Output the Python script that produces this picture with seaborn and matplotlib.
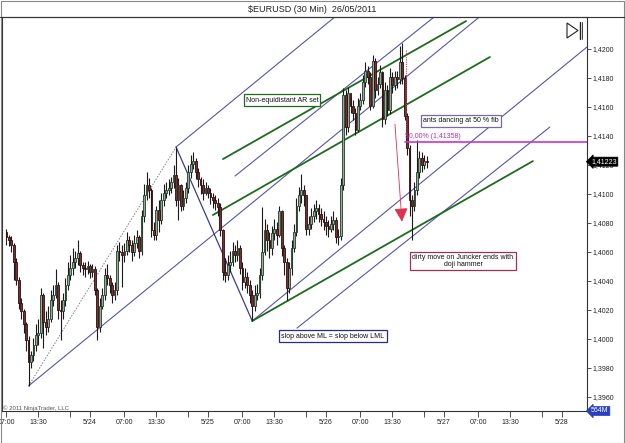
import numpy as np
import pandas as pd
import matplotlib
matplotlib.use("Agg")
import matplotlib.pyplot as plt
from matplotlib.lines import Line2D
from matplotlib.patches import Rectangle, Polygon
from matplotlib.ticker import FuncFormatter
import seaborn as sns

# ---- data (30 min bars, x = hours since 23/05 00:00) ----
first_open = 1.4074
closes = [1.4070, 1.4068, 1.4065, 1.4053, 1.4041, 1.4025, 1.4019, 1.4010, 1.3999, 1.3984,
          1.3989, 1.3996, 1.4003, 1.4004, 1.4030, 1.4012, 1.4008, 1.4014, 1.4027, 1.4030,
          1.4037, 1.4020, 1.4019, 1.4027, 1.4037, 1.4044, 1.4049, 1.4053, 1.4056, 1.4059,
          1.4051, 1.4049, 1.4048, 1.4050, 1.4046, 1.4048, 1.4034, 1.4008, 1.4023, 1.4030,
          1.4044, 1.4042, 1.4037, 1.4030, 1.4034, 1.4061, 1.4060, 1.4058, 1.4061, 1.4068,
          1.4065, 1.4060, 1.4066, 1.4070, 1.4061, 1.4085, 1.4099, 1.4106, 1.4103, 1.4075,
          1.4072, 1.4089, 1.4082, 1.4096, 1.4101, 1.4103, 1.4104, 1.4108, 1.4113, 1.4096,
          1.4106, 1.4092, 1.4097, 1.4104, 1.4115, 1.4121, 1.4123, 1.4115, 1.4110, 1.4106,
          1.4101, 1.4104, 1.4101, 1.4098, 1.4096, 1.4094, 1.4091, 1.4075, 1.4046, 1.4044,
          1.4051, 1.4053, 1.4061, 1.4058, 1.4063, 1.4049, 1.4039, 1.4043, 1.4037, 1.4030,
          1.4023, 1.4030, 1.4032, 1.4044, 1.4060, 1.4075, 1.4068, 1.4063, 1.4073, 1.4076,
          1.4072, 1.4088, 1.4063, 1.4053, 1.4035, 1.4049, 1.4063, 1.4074, 1.4092, 1.4099,
          1.4103, 1.4099, 1.4076, 1.4079, 1.4085, 1.4088, 1.4090, 1.4086, 1.4083, 1.4081,
          1.4078, 1.4076, 1.4079, 1.4082, 1.4070, 1.4071, 1.4106, 1.4168, 1.4146, 1.4170,
          1.4161, 1.4156, 1.4144, 1.4161, 1.4165, 1.4177, 1.4185, 1.4181, 1.4161, 1.4192,
          1.4172, 1.4176, 1.4184, 1.4152, 1.4172, 1.4158, 1.4181, 1.4175, 1.4181, 1.4179,
          1.4191, 1.4180, 1.4154, 1.4132, 1.4096, 1.4092, 1.4103, 1.4115, 1.4125, 1.4120,
          1.4123, 1.41223]
highs = [1.4076, 1.4072, 1.4071, 1.4066, 1.4056, 1.4043, 1.4028, 1.4021, 1.4012, 1.4002,
         1.3992, 1.4001, 1.4010, 1.4014, 1.4035, 1.4032, 1.4019, 1.4023, 1.4034, 1.4037,
         1.4048, 1.4039, 1.4027, 1.4032, 1.4042, 1.4053, 1.4058, 1.4063, 1.4061, 1.4068,
         1.4061, 1.4053, 1.4053, 1.4054, 1.4052, 1.4052, 1.4050, 1.4035, 1.4028, 1.4035,
         1.4049, 1.4052, 1.4044, 1.4039, 1.4039, 1.4065, 1.4067, 1.4065, 1.4066, 1.4074,
         1.4071, 1.4068, 1.4072, 1.4075, 1.4072, 1.4089, 1.4107, 1.4115, 1.4111, 1.4104,
         1.4081, 1.4092, 1.4096, 1.4101, 1.4107, 1.4108, 1.4110, 1.4112, 1.4120, 1.41324,
         1.4111, 1.4107, 1.4103, 1.4108, 1.4120, 1.4127, 1.4129, 1.4125, 1.4118, 1.4112,
         1.4110, 1.4108, 1.4106, 1.4104, 1.4101, 1.4099, 1.4097, 1.4094, 1.4076, 1.4056,
         1.4058, 1.4061, 1.4067, 1.4065, 1.4068, 1.4065, 1.4053, 1.4049, 1.4046, 1.4041,
         1.4034, 1.4037, 1.4038, 1.4049, 1.4091, 1.4083, 1.4079, 1.4074, 1.4078, 1.4083,
         1.4081, 1.4092, 1.4089, 1.4065, 1.4056, 1.4053, 1.4068, 1.4079, 1.4097, 1.4105,
         1.4114, 1.4106, 1.4099, 1.4085, 1.4090, 1.4093, 1.4096, 1.4093, 1.4090, 1.4088,
         1.4085, 1.4082, 1.4085, 1.4088, 1.4084, 1.4076, 1.4111, 1.4173, 1.4172, 1.4174,
         1.4167, 1.4165, 1.4159, 1.4166, 1.4170, 1.4182, 1.4191, 1.4188, 1.4184, 1.4196,
         1.4194, 1.4181, 1.4189, 1.4185, 1.4177, 1.4175, 1.4187, 1.4184, 1.4185, 1.4185,
         1.4202, 1.4204, 1.4182, 1.4156, 1.4134, 1.4099, 1.4108, 1.4137, 1.4130, 1.4129,
         1.4127, 1.4126]
lows = [1.4065, 1.4064, 1.4060, 1.4041, 1.4037, 1.4021, 1.4014, 1.4004, 1.3992, 1.39676,
        1.3980, 1.3985, 1.3992, 1.3996, 1.4001, 1.3994, 1.4003, 1.4005, 1.4012, 1.4023,
        1.4028, 1.4014, 1.3999, 1.4014, 1.4023, 1.4034, 1.4041, 1.4044, 1.4049, 1.4051,
        1.4046, 1.4044, 1.4043, 1.4045, 1.4042, 1.4043, 1.4030, 1.3999, 1.4005, 1.4021,
        1.4027, 1.4037, 1.4032, 1.4025, 1.4027, 1.4030, 1.4054, 1.4036, 1.4053, 1.4058,
        1.4060, 1.4054, 1.4057, 1.4063, 1.4056, 1.4058, 1.4081, 1.4096, 1.4097, 1.4070,
        1.4068, 1.4068, 1.4074, 1.4079, 1.4092, 1.4097, 1.4099, 1.4101, 1.4104, 1.4092,
        1.4082, 1.4088, 1.4089, 1.4094, 1.4101, 1.4111, 1.4117, 1.4110, 1.4105, 1.4100,
        1.4096, 1.4099, 1.4097, 1.4093, 1.4090, 1.4089, 1.4085, 1.4071, 1.4041, 1.4039,
        1.4041, 1.4046, 1.4050, 1.4053, 1.4054, 1.4045, 1.4034, 1.4035, 1.4032, 1.4025,
        1.40124, 1.4019, 1.4027, 1.4028, 1.4041, 1.4058, 1.4061, 1.4056, 1.4058, 1.4068,
        1.4065, 1.4070, 1.4057, 1.4044, 1.4027, 1.4032, 1.4044, 1.4060, 1.4071, 1.4088,
        1.4094, 1.4092, 1.4072, 1.4072, 1.4076, 1.4081, 1.4083, 1.4081, 1.4078, 1.4075,
        1.4072, 1.4070, 1.4074, 1.4075, 1.4066, 1.4065, 1.4068, 1.4103, 1.4141, 1.4143,
        1.4156, 1.4151, 1.4141, 1.4143, 1.4158, 1.4162, 1.4174, 1.4176, 1.4158, 1.4159,
        1.4166, 1.4168, 1.4173, 1.4146, 1.4148, 1.4154, 1.4155, 1.4170, 1.4172, 1.4173,
        1.4176, 1.4176, 1.4151, 1.4127, 1.4085, 1.4068, 1.4088, 1.4099, 1.4111, 1.4115,
        1.4117, 1.4118]

# pitchfork pivots (hour, price)
p1 = (11.5, 1.39676)
p2 = (41.5, 1.41324)
p3 = (57.0, 1.40124)

# trend lines: (h0, price0, h1, price1)
navy_lines = [
    (11.5, 1.39676, 103.2, 1.42221),   # median line
    (57.0, 1.40124, 125.1, 1.42014),   # lower parallel
    (41.5, 1.41324, 73.8, 1.42221),    # upper parallel
    (53.5, 1.41124, 94.0, 1.42221),    # inner reaction line
    (66.1, 1.40075, 117.55, 1.41462),  # lower warning line
]
green_lines = [
    (57.0, 1.40124, 114.1, 1.41227),
    (49.0, 1.40855, 105.35, 1.41945),
    (51.05, 1.41241, 100.5, 1.42193),
]
fib_level = 1.41358
fib_start = 88.0
last_price = 1.41223

yticks = [1.396, 1.398, 1.400, 1.402, 1.404, 1.406, 1.408, 1.410, 1.412, 1.414, 1.416, 1.418, 1.420]
xtick_pos = [7, 13.5, 24, 31, 37.5, 48, 55, 61.5, 72, 79, 85.5, 96, 103, 109.5, 120]
xtick_lab = ["07:00", "13:30", "5/24", "07:00", "13:30", "5/25", "07:00", "13:30",
             "5/26", "07:00", "13:30", "5/27", "07:00", "13:30", "5/28"]
xminor_pos = [20, 44, 68, 92, 116]

# ---- build frame ----
n = len(closes)
df = pd.DataFrame({
    "h": 7 + 0.5 * np.arange(n),
    "open": [first_open] + closes[:-1],
    "high": highs,
    "low": lows,
    "close": closes,
})
df["up"] = df["close"] >= df["open"]

sns.set_theme(style="white")
plt.rcParams["font.family"] = ["Liberation Sans", "DejaVu Sans"]

W, H = 625, 443
fig = plt.figure(figsize=(W / 100, H / 100), dpi=100)
ax = fig.add_axes([2 / W, 32 / H, 585 / W, 394 / H])
ax.set_xlim(6.1, 125.1)
ax.set_ylim(1.39503, 1.42221)

# trend lines
for h0, y0, h1, y1 in navy_lines:
    sns.lineplot(x=[h0, h1], y=[y0, y1], ax=ax, color="#5656a6", lw=0.8,
                 estimator=None, sort=False)
sns.lineplot(x=[p2[0], p3[0]], y=[p2[1], p3[1]], ax=ax, color="#3c3c8c", lw=0.9,
             estimator=None, sort=False)
ax.plot([p1[0], p2[0]], [p1[1], p2[1]], color="#808080", lw=0.7, ls=(0, (1.5, 1.5)))
for h0, y0, h1, y1 in green_lines:
    sns.lineplot(x=[h0, h1], y=[y0, y1], ax=ax, color="#1e6b1e", lw=1.3,
                 estimator=None, sort=False)

# candles
ax.vlines(df["h"], df["low"], df["high"], color="#1a1a1a", lw=0.8, zorder=3)
up = df[df["up"]]
dn = df[~df["up"]]
ax.bar(up["h"], up["close"] - up["open"], bottom=up["open"], width=0.36,
       color="#9aaa9a", edgecolor="#1f3d28", lw=0.6, zorder=4)
ax.bar(dn["h"], dn["close"] - dn["open"], bottom=dn["open"], width=0.36,
       color="#7d2e2e", edgecolor="#2b0f0f", lw=0.6, zorder=4)

# fib level
ax.plot([fib_start, 125.1], [fib_level, fib_level], color="#cc33cc", lw=1.2, zorder=5)
ax.text(fib_start, fib_level + 0.00012, "50,00% (1,41358)", color="#b030b0",
        fontsize=5, va="bottom", ha="left", zorder=6)
ax.plot([88.3, 88.3], [1.4199, 1.4140], color="#c04060", lw=0.8, ls=(0, (1, 1)), zorder=5)

# red arrow
ax.annotate("", xy=(87.5, 1.4079), xytext=(86.0, 1.4150),
            arrowprops=dict(arrowstyle="-|>,head_width=0.35,head_length=0.7",
                            color="#e03050", lw=0.6), zorder=6)

# axes styling
for s in ["left", "top", "right", "bottom"]:
    ax.spines[s].set_color("#333333")
    ax.spines[s].set_linewidth(0.8)
ax.yaxis.tick_right()
ax.set_yticks(yticks)
ax.yaxis.set_major_formatter(FuncFormatter(lambda v, p: f"{v:.4f}".replace(".", ",")))
ax.tick_params(axis="y", direction="out", length=3, width=0.6, color="#333333",
               labelsize=5, pad=1, right=True, left=False, labelcolor="#222222")
ax.set_xticks(xtick_pos)
ax.set_xticklabels(xtick_lab)
ax.set_xticks(xminor_pos, minor=True)
ax.tick_params(axis="x", which="both", direction="out", length=4, width=0.6,
               color="#333333", labelsize=5, pad=2, bottom=True, labelcolor="#222222")
ax.grid(False)

# last price and volume tags
ax.annotate("1,41223", xy=(125.1, last_price), xycoords="data",
            xytext=(3, 0), textcoords="offset points", fontsize=5, color="white",
            va="center", ha="left", annotation_clip=False,
            bbox=dict(boxstyle="larrow,pad=0.15", fc="black", ec="black", lw=0.5))
ax.annotate("564M", xy=(1.0, 0.0), xycoords="axes fraction", xytext=(3, 0),
            textcoords="offset points", fontsize=5, color="white", va="center",
            ha="left", annotation_clip=False,
            bbox=dict(boxstyle="larrow,pad=0.15", fc="#2a3fbf", ec="#2a3fbf", lw=0.5))


def fx(x):
    return x / W


def fy(y):
    return 1 - y / H


# annotation boxes
boxes = [
    ("Non-equidistant AR set", 282, 100, "#1e6b1e"),
    ("ants dancing at 50 % fib", 461, 121, "#7a6a9a"),
    ("dirty move on Juncker ends with\ndoji hammer", 463, 261, "#a0305a"),
    ("slop above ML = slop below LML", 333, 336, "#2a2a8a"),
]
for txt, x, y, ec in boxes:
    fig.text(fx(x), fy(y), txt, fontsize=5, ha="center", va="center", color="#111111",
             linespacing=1.1,
             bbox=dict(boxstyle="square,pad=0.3", fc="white", ec=ec, lw=0.9), zorder=10)

fig.text(0.5, fy(9), r"\$EURUSD (30 Min)  26/05/2011", fontsize=6.5, ha="center",
         va="center", color="#222222")
fig.text(fx(3), fy(408), "© 2011 NinjaTrader, LLC", fontsize=4.3, ha="left",
         va="center", color="#555555")

# top line across full width, figure frame
fig.add_artist(Line2D([0, 1], [fy(17), fy(17)], transform=fig.transFigure,
                      color="#333333", lw=0.8))
fig.add_artist(Rectangle((0.001, 0.001), 0.997, 0.997, transform=fig.transFigure,
                         fill=False, ec="#888888", lw=0.8))
# play/stop icon
fig.add_artist(Polygon([[fx(567), fy(23)], [fx(567), fy(38)], [fx(578), fy(30.5)]],
                       closed=True, fill=False, ec="#222222", lw=0.8,
                       transform=fig.transFigure))
fig.add_artist(Line2D([fx(580), fx(580)], [fy(22), fy(39)], transform=fig.transFigure,
                      color="#222222", lw=1.0))
fig.add_artist(Line2D([fx(582), fx(582)], [fy(22), fy(39)], transform=fig.transFigure,
                      color="#222222", lw=0.6))

fig.savefig("out.png", dpi=100)
